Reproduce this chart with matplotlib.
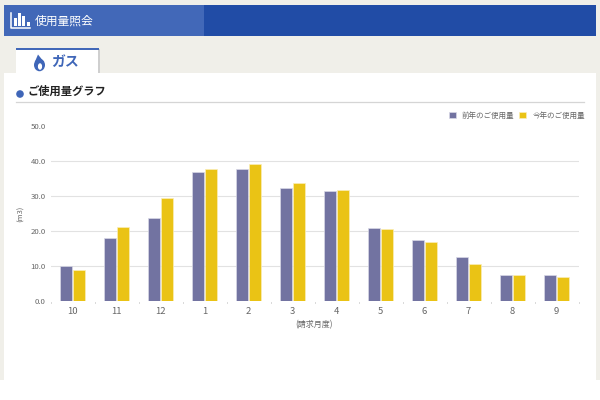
import matplotlib
matplotlib.use("Agg")
import matplotlib.pyplot as plt
from matplotlib.patches import Rectangle, Circle, Ellipse, Polygon

plt.rcParams['font.family'] = ['Noto Sans CJK JP', 'DejaVu Sans']

months = ['10', '11', '12', '1', '2', '3', '4', '5', '6', '7', '8', '9']
last_year = [9.9, 18.0, 23.8, 36.8, 37.7, 32.2, 31.4, 21.0, 17.4, 12.5, 7.4, 7.4]
this_year = [8.9, 21.2, 29.3, 37.8, 39.2, 33.7, 31.6, 20.5, 17.0, 10.7, 7.5, 6.9]
y_ticks = [0, 10, 20, 30, 40, 50]
y_tick_labels = ['0.0', '10.0', '20.0', '30.0', '40.0', '50.0']

PAGE = '#f0efe9'
BLUE = '#214ca6'
BLUE2 = '#4268b8'
PURPLE = '#7273a1'
YELLOW = '#eac315'
GRID = '#e2e2e2'
TEXT = '#666666'

fig = plt.figure(figsize=(6, 4), dpi=100, facecolor='white')

# page furniture, in pixel coords (y down)
bg = fig.add_axes([0, 0, 1, 1])
bg.set_xlim(0, 600)
bg.set_ylim(400, 0)
bg.axis('off')
bg.add_patch(Rectangle((0, 0), 600, 380, fc=PAGE, ec='none'))
bg.add_patch(Rectangle((3.5, 73), 592.5, 320, fc='white', ec='none'))
bg.add_patch(Rectangle((3.5, 5), 592.5, 31, fc=BLUE, ec='none'))
bg.add_patch(Rectangle((3.5, 5), 200.5, 31, fc=BLUE2, ec='none'))

# chart icon in the header
bg.plot([10.5, 10.5, 30], [13, 27.5, 27.5], color='white', lw=1.1)
for x, top in zip([13.5, 17.5, 22, 26.5], [18, 13, 16, 22]):
    bg.add_patch(Rectangle((x, top), 3, 26 - top, fc='white', ec='none'))
bg.text(34.5, 21, '使用量照会', color='white', fontsize=8.5, va='center', ha='left')

# tab
bg.add_patch(Rectangle((97, 49), 2.5, 24, fc='#cfcfcf', ec='none'))
bg.add_patch(Rectangle((15.5, 48.5), 82.5, 25, fc='white', ec='none'))
bg.add_patch(Rectangle((15.5, 48), 83, 1.8, fc=BLUE2, ec='none'))
bg.add_patch(Ellipse((39.5, 65), 11, 12.5, fc='#3f66b8', ec='none'))
bg.add_patch(Polygon([[34.8, 62], [38, 54.5], [44, 62]], fc='#3f66b8', ec='none'))
bg.add_patch(Ellipse((40, 66.5), 4.2, 6.5, fc='white', ec='none'))
bg.text(51, 62, 'ガス', color='#3f66b8', fontsize=10, fontweight='bold', va='center', ha='left')

# section title
bg.add_patch(Circle((20, 94), 3.8, fc='#3f66b8', ec='none'))
bg.text(27.5, 91.5, 'ご使用量グラフ', color='#222222', fontsize=8.1, fontweight='bold', va='center', ha='left')
bg.plot([16, 584], [101.5, 101.5], color='#d5d5d5', lw=0.9)

# chart
ax = fig.add_axes([50.5 / 600, (400 - 301) / 400, 528 / 600, 175 / 400])
ax.patch.set_alpha(0)
xs = list(range(len(months)))
ax.bar([x - 0.155 for x in xs], last_year, width=0.265, color=PURPLE, edgecolor='#d8d8e6', linewidth=0.5, label='前年のご使用量', zorder=3)
ax.bar([x + 0.155 for x in xs], this_year, width=0.265, color=YELLOW, edgecolor='#faeeb8', linewidth=0.5, label='今年のご使用量', zorder=3)
ax.set_xlim(-0.5, 11.5)
ax.set_ylim(0, 50)
ax.set_yticks(y_ticks)
ax.set_yticklabels(y_tick_labels, fontsize=5.6, color=TEXT)
ax.set_xticks(xs)
ax.set_xticklabels(months, fontsize=6.8, color=TEXT)
ax.tick_params(axis='y', length=0, pad=3.5)
ax.tick_params(axis='x', length=0, pad=4)
ax.grid(axis='y', color=GRID, lw=0.8, zorder=0)
ax.get_ygridlines()[-1].set_visible(False)
ax.get_ygridlines()[0].set_visible(False)
for s in ax.spines.values():
    s.set_visible(False)
ax.set_axisbelow(True)

# category separators on the baseline
for x in range(13):
    ax.plot([x - 0.5, x - 0.5], [-0.15, -0.55], color='#d0d0d0', lw=0.6, clip_on=False)

ax.set_xlabel('(請求月度)', fontsize=5.8, color=TEXT, labelpad=3)
ax.set_ylabel('(m3)', fontsize=5.4, color=TEXT, labelpad=4)

ax.legend(loc='center right', bbox_to_anchor=(1.012, 1.06), ncol=2, frameon=False, fontsize=5.45,
          labelcolor=TEXT, handlelength=0.92, handleheight=0.9, handletextpad=0.8,
          columnspacing=0.65, borderpad=0, borderaxespad=0)

fig.savefig('out.png', dpi=100)
